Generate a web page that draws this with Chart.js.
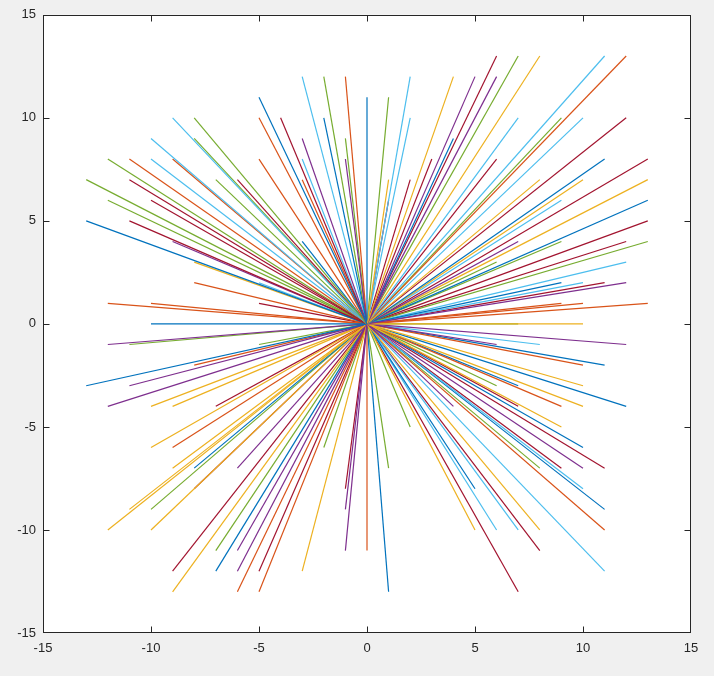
<!DOCTYPE html>
<html>
<head>
<meta charset="utf-8">
<script src="https://cdn.jsdelivr.net/npm/chart.js@4/dist/chart.umd.min.js"></script>
<style>
  html, body { margin: 0; padding: 0; background: #f0f0f0; }
  canvas { display: block; }
</style>
</head>
<body>
<canvas id="chart-area" width="714" height="676"></canvas>
<script>
// line end points (all lines start at the origin), grouped by colour
var blueX = [-5, 0, -2, 4, 11, 13, -3, -13, -10, -13, 9, 11, 12, 7, 10, 11, 5, 1, -7, -8];
var blueY = [11, 11, 10, 9, 8, 6, 4, 5, 0, -3, 2, -2, -4, -3, -6, -9, -8, -13, -12, -7];
var orangeX = [-5, -5, -9, -11, -1, -3, 12, 10, 13, 9, 10, 9, 11, 0, -5, -6, -9, -8, -8, -12, -10];
var orangeY = [10, 8, 8, 8, 12, 7, 13, 1, 1, 1, -2, -4, -10, -11, -13, -13, -6, -2, 2, 1, 1];
var yellowX = [4, 1, 8, 8, 10, 13, 10, 10, 10, 9, 8, 5, -3, -12, -11, -10, -10, -9, -9, -10, -9, -8];
var yellowY = [12, 7, 13, 7, 7, 7, 0, -3, -4, -5, -10, -10, -12, -10, -9, -10, -6, -7, -13, -4, -4, 3];
var purpleX = [5, 6, -3, -1, 7, 12, 12, 6, 10, 4, -1, -1, -6, -6, -6, -12, -11, -12, -9];
var purpleY = [12, 12, 9, 8, 4, 2, -1, -1, -7, -4, -9, -11, -11, -12, -7, -4, -3, -1, 4];
var greenX = [-8, -8, -12, -7, -13, -12, -2, 1, -1, 7, 9, 9, 13, 6, 7, 6, 8, 2, 1, -2, -7, -10, -11, -5];
var greenY = [10, 9, 8, 7, 7, 6, 12, 11, 9, 13, 10, 4, 4, 3, 0, -3, -7, -5, -7, -6, -11, -9, -1, -1];
var lightblueX = [-9, -10, -10, -3, 2, 2, -3, 11, 7, 10, 9, 12, 10, 8, 10, 11, 7, 6, -5];
var lightblueY = [10, 9, 8, 12, 12, 10, 8, 13, 10, 10, 6, 3, 2, -1, -8, -12, -10, -10, 2];
var darkredX = [-6, -11, -10, -11, -4, 3, 2, 1, 6, 6, 12, 13, 13, 12, 11, 11, 9, 7, 8, 7, -1, -5, -9, -8, -7, -5];
var darkredY = [7, 7, 6, 5, 10, 8, 7, 6, 13, 8, 10, 8, 5, 4, 2, -7, -7, -4, -11, -13, -8, -12, -12, -8, -4, 1];

var tickValues = [-15, -10, -5, 0, 5, 10, 15];

var groups = [
  { x: blueX, y: blueY, color: '#0072BD' },
  { x: orangeX, y: orangeY, color: '#D95319' },
  { x: yellowX, y: yellowY, color: '#EDB120' },
  { x: purpleX, y: purpleY, color: '#7E2F8E' },
  { x: greenX, y: greenY, color: '#77AC30' },
  { x: lightblueX, y: lightblueY, color: '#4DBEEE' },
  { x: darkredX, y: darkredY, color: '#A2142F' }
];

var datasets = [];
var maxLen = 0;
groups.forEach(function(g) { if (g.x.length > maxLen) maxLen = g.x.length; });
// interleave the colours like a plotting colour cycle
for (var i = 0; i < maxLen; i++) {
  groups.forEach(function(g) {
    if (i < g.x.length) {
      datasets.push({
        data: [{ x: 0, y: 0 }, { x: g.x[i], y: g.y[i] }],
        borderColor: g.color,
        backgroundColor: g.color,
        borderWidth: 1.2,
        pointRadius: 0,
        showLine: true,
        fill: false
      });
    }
  });
}

var boxPlugin = {
  id: 'box',
  beforeDraw: function(chart) {
    var a = chart.chartArea, ctx = chart.ctx;
    ctx.save();
    ctx.fillStyle = '#ffffff';
    ctx.fillRect(a.left, a.top, a.right - a.left, a.bottom - a.top);
    ctx.restore();
  },
  afterDraw: function(chart) {
    var a = chart.chartArea, ctx = chart.ctx;
    var xs = chart.scales.x, ys = chart.scales.y;
    var l = Math.round(a.left) + 0.5, r = Math.round(a.right) - 0.5;
    var t = Math.round(a.top) + 0.5, b = Math.round(a.bottom) - 0.5;
    function clamp(v, lo, hi) { return Math.min(hi, Math.max(lo, v)); }
    ctx.save();
    ctx.strokeStyle = '#262626';
    ctx.lineWidth = 1;
    ctx.strokeRect(l, t, r - l, b - t);
    ctx.beginPath();
    tickValues.forEach(function(v) {
      var px = clamp(Math.round(xs.getPixelForValue(v)) + 0.5, l, r);
      ctx.moveTo(px, b); ctx.lineTo(px, b - 6);
      ctx.moveTo(px, t); ctx.lineTo(px, t + 6);
      var py = clamp(Math.round(ys.getPixelForValue(v)) + 0.5, t, b);
      ctx.moveTo(l, py); ctx.lineTo(l + 6, py);
      ctx.moveTo(r, py); ctx.lineTo(r - 6, py);
    });
    ctx.stroke();
    ctx.restore();
  }
};

var tickFont = { family: "'Liberation Sans', Arial, sans-serif", size: 13 };

var config = {
  type: 'scatter',
  data: { datasets: datasets },
  options: {
    responsive: false,
    devicePixelRatio: 1,
    animation: false,
    layout: { padding: { top: 13, right: 23, left: 0, bottom: 0 } },
    plugins: { legend: { display: false }, tooltip: { enabled: false } },
    scales: {
      x: {
        type: 'linear',
        min: -15, max: 15,
        afterBuildTicks: function(scale) { scale.ticks = tickValues.map(function(v) { return { value: v }; }); },
        afterFit: function(scale) { scale.height = 43; },
        grid: { display: false, drawTicks: false },
        border: { display: false },
        ticks: { color: '#262626', font: tickFont, padding: 8, maxRotation: 0 }
      },
      y: {
        type: 'linear',
        min: -15, max: 15,
        afterBuildTicks: function(scale) { scale.ticks = tickValues.map(function(v) { return { value: v }; }); },
        afterFit: function(scale) { scale.width = 43; },
        grid: { display: false, drawTicks: false },
        border: { display: false },
        ticks: { color: '#262626', font: tickFont, padding: 7 }
      }
    }
  },
  plugins: [boxPlugin]
};

window.onload = function() {
  var ctx = document.getElementById('chart-area').getContext('2d');
  window.myLines = new Chart(ctx, config);
};
</script>
</body>
</html>
